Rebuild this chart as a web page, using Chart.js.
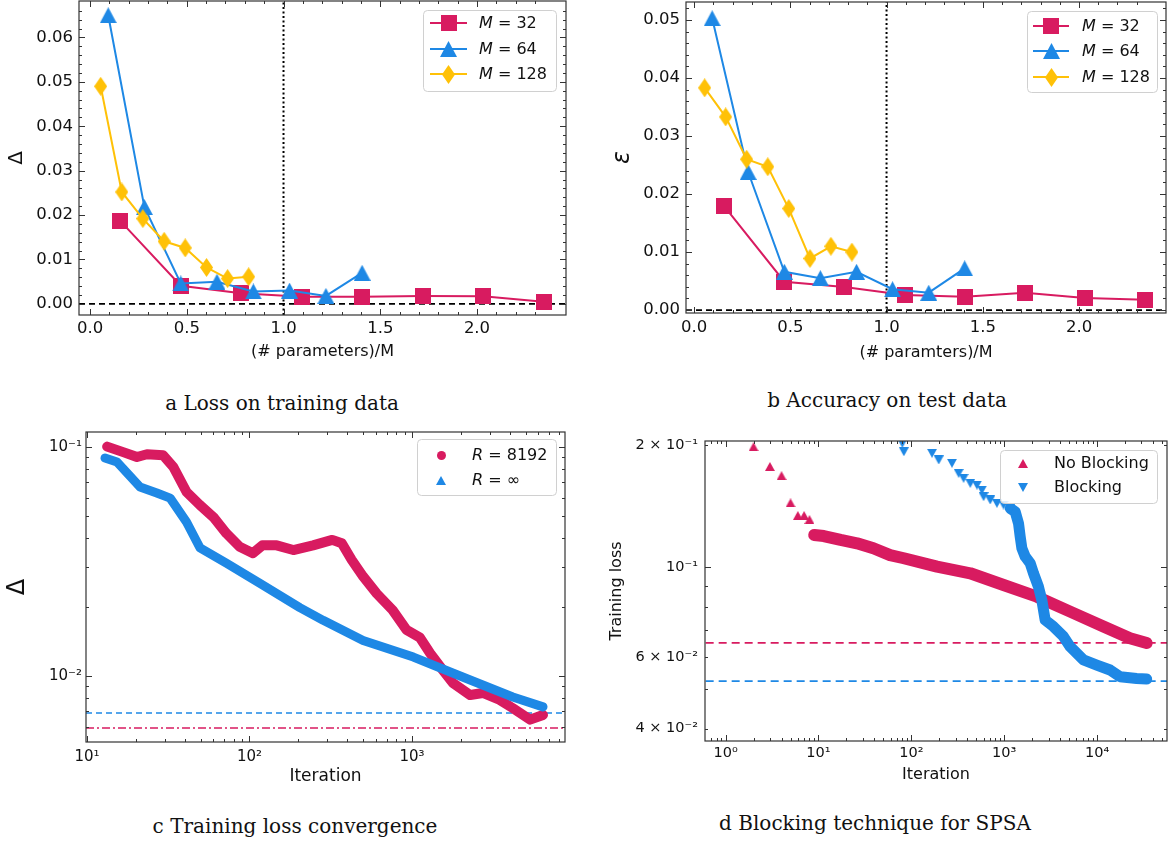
<!DOCTYPE html>
<html>
<head>
<meta charset="utf-8">
<script src="https://cdn.jsdelivr.net/npm/chart.js@4.4.1/dist/chart.umd.min.js"></script>
<style>
  body { margin: 0; background: #fff; width: 1169px; height: 845px; position: relative; overflow: hidden; }
  canvas { position: absolute; }
  .cap { position: absolute; font-family: 'DejaVu Serif', serif; font-size: 20px; color: #111;
         transform: translateX(-50%); white-space: nowrap; line-height: 24px; }
</style>
</head>
<body>
<canvas id="ca" width="580" height="370" style="left:0;top:0"></canvas>
<canvas id="cb" width="579" height="370" style="left:590px;top:0"></canvas>
<canvas id="cc" width="580" height="370" style="left:0;top:425px"></canvas>
<canvas id="cd" width="579" height="370" style="left:590px;top:425px"></canvas>
<div class="cap" style="left:282px;top:391px">a Loss on training data</div>
<div class="cap" style="left:887px;top:388px">b Accuracy on test data</div>
<div class="cap" style="left:295px;top:814px">c Training loss convergence</div>
<div class="cap" style="left:875px;top:811px">d Blocking technique for SPSA</div>
<script>
const CRIMSON = '#D81B60', BLUE = '#1E88E5', GOLD = '#FFC107';

// ---- (a) loss on training data, (b) accuracy on test data ----
// x = (# parameters)/M
const x32 = [0.156, 0.469, 0.781, 1.094, 1.406, 1.719, 2.031, 2.344];
const x64 = [0.094, 0.281, 0.469, 0.656, 0.844, 1.031, 1.219, 1.406];
const x128 = [0.055, 0.164, 0.273, 0.383, 0.492, 0.602, 0.711, 0.820];

const lossM32 = [0.0187, 0.0041, 0.0024, 0.0016, 0.0016, 0.0018, 0.0017, 0.0005];
const lossM64 = [0.0650, 0.0218, 0.0046, 0.0050, 0.0028, 0.0030, 0.0018, 0.0070];
const lossM128 = [0.0490, 0.0252, 0.0192, 0.0141, 0.0126, 0.0082, 0.0057, 0.0061];

const accM32 = [0.0179, 0.0049, 0.0040, 0.0026, 0.0023, 0.0030, 0.0021, 0.0018];
const accM64 = [0.0503, 0.0238, 0.0066, 0.0055, 0.0066, 0.0036, 0.0030, 0.0072];
const accM128 = [0.0383, 0.0333, 0.0260, 0.0247, 0.0175, 0.0089, 0.0110, 0.0100];

const A_XTICKS = [0, 0.5, 1, 1.5, 2];
const A_XLABELS = ['0.0', '0.5', '1.0', '1.5', '2.0'];
const A_YTICKS = [0, 0.01, 0.02, 0.03, 0.04, 0.05, 0.06];
const A_YLABELS = ['0.00', '0.01', '0.02', '0.03', '0.04', '0.05', '0.06'];
const B_YTICKS = [0, 0.01, 0.02, 0.03, 0.04, 0.05];
const B_YLABELS = ['0.00', '0.01', '0.02', '0.03', '0.04', '0.05'];

// ---- (c) training loss convergence ----
const cIterR8192 = [13.3, 16.7, 20.3, 23.4, 29.4, 34, 41, 49.5, 60, 72, 87, 105, 120, 147, 186, 246, 323, 370, 425, 500, 607, 760, 925, 1120, 1290, 1550, 1790, 2280, 2730, 3470, 4170, 5330, 6400];
const cDeltaR8192 = [0.1004, 0.095, 0.0904, 0.093, 0.092, 0.0818, 0.0636, 0.0558, 0.0494, 0.042, 0.0367, 0.0344, 0.0372, 0.0372, 0.0355, 0.0372, 0.0393, 0.038, 0.0322, 0.0272, 0.0229, 0.0194, 0.0159, 0.0147, 0.0126, 0.0106, 0.0093, 0.00826, 0.00843, 0.00786, 0.00724, 0.00645, 0.00676];
const cIterRinf = [12.9, 15.3, 21.2, 26.9, 32.5, 41, 49.6, 72, 116, 204, 284, 500, 1020, 2050, 4170, 6400];
const cDeltaRinf = [0.0895, 0.086, 0.0669, 0.063, 0.0598, 0.047, 0.0363, 0.0311, 0.0254, 0.0199, 0.0175, 0.0143, 0.0121, 0.0099, 0.0081, 0.00733];
const cLimitR8192 = 0.00593;
const cLimitRinf = 0.00689;

const C_XTICKS = [10, 100, 1000];
const C_XLABELS = ['10¹', '10²', '10³'];
const C_YTICKS = [0.01, 0.1];
const C_YLABELS = ['10⁻²', '10⁻¹'];

// ---- (d) blocking technique for SPSA ----
const dIterNoBlock = [2, 3, 4, 5, 6, 7, 8];
const dLossNoBlock = [0.198, 0.177, 0.168, 0.144, 0.134, 0.134, 0.131];
const dIterNoBlockDense = [9, 11.4, 17.3, 26, 39, 59, 83, 189, 431, 984, 2246, 5130, 11700, 22600, 34200];
const dLossNoBlockDense = [0.120, 0.1193, 0.1167, 0.1145, 0.1113, 0.1071, 0.1052, 0.1003, 0.0966, 0.0904, 0.0846, 0.0777, 0.0714, 0.0668, 0.0650];
const dIterBlock = [80, 83, 167, 197, 274, 323, 365, 431, 508, 575, 600, 707, 834, 984, 1161];
const dLossBlock = [0.2019, 0.1925, 0.1908, 0.1837, 0.1803, 0.1703, 0.1656, 0.1609, 0.1594, 0.1549, 0.1492, 0.1464, 0.1437, 0.1423, 0.1396];
const dIterBlockDense = [1161, 1314, 1426, 1486, 1549, 1682, 1905, 2066, 2337, 2541, 2649, 2760, 3390, 4340, 5130, 7130, 9930, 13800, 17700, 26700, 34200];
const dLossBlockDense = [0.1396, 0.1369, 0.1282, 0.1189, 0.1113, 0.1062, 0.1022, 0.0966, 0.0895, 0.0830, 0.0784, 0.0741, 0.0714, 0.0675, 0.0637, 0.0591, 0.0574, 0.0558, 0.0537, 0.0532, 0.0530];
const dLimitNoBlock = 0.0651;
const dLimitBlock = 0.0524;

const D_XTICKS = [1, 10, 100, 1000, 10000];
const D_XLABELS = ['10⁰', '10¹', '10²', '10³', '10⁴'];
const D_YTICKS = [0.04, 0.06, 0.1, 0.2];
const D_YLABELS = ['4 × 10⁻²', '6 × 10⁻²', '10⁻¹', '2 × 10⁻¹'];

Chart.defaults.font.family = "'DejaVu Sans', sans-serif";
Chart.defaults.color = '#111';

// marker images (matplotlib-like shapes)
function mk(shape, color, w, h) {
  const c = document.createElement('canvas');
  c.width = w; c.height = h;
  const g = c.getContext('2d');
  g.fillStyle = color;
  g.beginPath();
  if (shape === 'square') g.rect(0, 0, w, h);
  else if (shape === 'up') { g.moveTo(w / 2, 0); g.lineTo(w, h); g.lineTo(0, h); }
  else if (shape === 'down') { g.moveTo(0, 0); g.lineTo(w, 0); g.lineTo(w / 2, h); }
  else if (shape === 'diamond') { g.moveTo(w / 2, 0); g.lineTo(w, h / 2); g.lineTo(w / 2, h); g.lineTo(0, h / 2); }
  else if (shape === 'circle') g.arc(w / 2, h / 2, w / 2, 0, Math.PI * 2);
  g.closePath();
  g.fill();
  return c;
}
const SQ = mk('square', CRIMSON, 16, 16);
const TRI = mk('up', BLUE, 17, 16);
const DIA = mk('diamond', GOLD, 13, 19);

function pts(xs, ys) { return xs.map((x, i) => ({ x: x, y: ys[i] })); }

function series(xs, ys, color, style, extra) {
  return Object.assign({
    data: pts(xs, ys), showLine: true, borderColor: color, backgroundColor: color,
    borderWidth: 2, pointStyle: style, pointRadius: 8, tension: 0
  }, extra || {});
}
function band(xs, ys, color, width, order) {
  return {
    data: pts(xs, ys), showLine: true, borderColor: color, backgroundColor: color,
    borderWidth: width, pointRadius: 0, tension: 0, borderCapStyle: 'round', borderJoinStyle: 'round', order: order
  };
}
function refLine(xs, ys, color, dash, width) {
  return { data: pts(xs, ys), showLine: true, borderColor: color, borderDash: dash,
           borderWidth: width, pointRadius: 0, order: 10 };
}

function minorLin(min, max, step, majors) {
  const out = [];
  for (let v = Math.ceil(min / step) * step; v <= max; v += step) {
    const r = Math.round(v / step) * step;
    if (!majors.some(m => Math.abs(m - r) < step / 10)) out.push(r);
  }
  return out;
}
function minorLog(min, max) {
  const out = [];
  for (let e = Math.floor(Math.log10(min)); e <= Math.ceil(Math.log10(max)); e++) {
    for (let k = 2; k <= 9; k++) {
      const v = k * Math.pow(10, e);
      if (v >= min && v <= max) out.push(v);
    }
  }
  return out;
}

// ticks drawn inward on all four sides + frame + in-axes legend
const FRAMES = {};
const LEGENDS = {};
function richText(ctx, parts, x, y, size) {
  let cx = x;
  parts.forEach(p => {
    ctx.font = (p[1] ? 'italic ' : '') + size + "px 'DejaVu Sans'";
    ctx.fillText(p[0], cx, y);
    cx += ctx.measureText(p[0]).width;
  });
}
const framePlugin = {
  id: 'frameTicks',
  afterDatasetsDraw(chart) {
    const f = FRAMES[chart.canvas.id];
    const { ctx, chartArea: a } = chart;
    const sx = chart.scales.x, sy = chart.scales.y;
    ctx.save();
    ctx.strokeStyle = '#333';
    ctx.lineWidth = 1;
    ctx.beginPath();
    const tx = (vals, len) => vals.forEach(v => {
      const p = Math.round(sx.getPixelForValue(v)) + 0.5;
      if (p < a.left || p > a.right) return;
      ctx.moveTo(p, a.bottom); ctx.lineTo(p, a.bottom - len);
      ctx.moveTo(p, a.top); ctx.lineTo(p, a.top + len);
    });
    const ty = (vals, len) => vals.forEach(v => {
      const p = Math.round(sy.getPixelForValue(v)) + 0.5;
      if (p < a.top || p > a.bottom) return;
      ctx.moveTo(a.left, p); ctx.lineTo(a.left + len, p);
      ctx.moveTo(a.right, p); ctx.lineTo(a.right - len, p);
    });
    tx(f.xMajor, 6); tx(f.xMinor, 3);
    ty(f.yMajor, 6); ty(f.yMinor, 3);
    ctx.stroke();
    ctx.lineWidth = 1.2;
    ctx.strokeRect(a.left, a.top, a.right - a.left, a.bottom - a.top);

    const lg = LEGENDS[chart.canvas.id];
    if (lg) {
      ctx.beginPath();
      ctx.roundRect(lg.x + 0.5, lg.y + 0.5, lg.w, lg.h, 4);
      ctx.fillStyle = 'rgba(255,255,255,0.85)';
      ctx.fill();
      ctx.strokeStyle = '#d0d0d0';
      ctx.lineWidth = 1;
      ctx.stroke();
      ctx.textBaseline = 'middle';
      ctx.textAlign = 'left';
      lg.items.forEach((it, i) => {
        const y = lg.rows[i];
        if (lg.line) {
          ctx.strokeStyle = it.color;
          ctx.lineWidth = 2;
          ctx.beginPath();
          ctx.moveTo(lg.line[0], y); ctx.lineTo(lg.line[1], y);
          ctx.stroke();
        }
        const m = it.marker;
        ctx.drawImage(m, Math.round(lg.mx - m.width / 2), Math.round(y - m.height / 2));
        ctx.fillStyle = '#111';
        richText(ctx, it.parts, lg.tx, y + 1, lg.size);
      });
    }
    ctx.restore();
  }
};

function build(id, s) {
  const cv = document.getElementById(id);
  const W = cv.width, H = cv.height, ar = s.area;
  FRAMES[id] = { xMajor: s.xTicks, xMinor: s.xMinor, yMajor: s.yMajor || s.yTicks, yMinor: s.yMinor };
  return new Chart(cv, {
    type: 'scatter',
    data: { datasets: s.datasets },
    options: {
      responsive: false,
      animation: false,
      events: [],
      layout: { autoPadding: false, padding: { left: 0, top: ar.top, right: W - ar.right, bottom: 0 } },
      plugins: { legend: { display: false }, tooltip: { enabled: false } },
      scales: {
        x: {
          type: s.xType, min: s.xMin, max: s.xMax,
          grid: { display: false, drawTicks: false }, border: { display: false },
          ticks: { autoSkip: false, maxRotation: 0, padding: s.xPad, color: '#111',
                   font: { size: s.tickSize }, callback: (v, i) => s.xLabels[i] },
          afterBuildTicks: sc => { sc.ticks = s.xTicks.map(v => ({ value: v })); },
          afterFit: sc => { sc.height = H - ar.bottom; sc.paddingLeft = 0; sc.paddingRight = 0; },
          title: { display: true, text: s.xTitle, color: '#111', font: s.xTitleFont,
                   padding: { top: 0, bottom: s.xTitlePad } }
        },
        y: {
          type: s.yType, min: s.yMin, max: s.yMax,
          grid: { display: false, drawTicks: false }, border: { display: false },
          ticks: { autoSkip: false, padding: s.yPad, color: '#111',
                   font: { size: s.tickSize }, callback: (v, i) => s.yLabels[i] },
          afterBuildTicks: sc => { sc.ticks = s.yTicks.map(v => ({ value: v })); },
          afterFit: sc => { sc.width = ar.left; sc.paddingTop = 0; sc.paddingBottom = 0; },
          title: { display: true, text: s.yTitle, color: '#111', font: s.yTitleFont,
                   padding: { top: s.yTitlePad, bottom: 0 } }
        }
      }
    },
    plugins: [framePlugin]
  });
}

// ---------- panel a ----------
const A_XMIN = -0.057, A_XMAX = 2.46, A_YMIN = -0.0025, A_YMAX = 0.0682;
LEGENDS.ca = {
  x: 423, y: 10, w: 133, h: 81, rows: [23, 49, 74], line: [430, 467], mx: 448.5, tx: 479, size: 16,
  items: [
    { color: CRIMSON, marker: SQ, parts: [['M', true], [' = 32', false]] },
    { color: BLUE, marker: TRI, parts: [['M', true], [' = 64', false]] },
    { color: GOLD, marker: DIA, parts: [['M', true], [' = 128', false]] }
  ]
};
build('ca', {
  area: { left: 79, top: 1, right: 566, bottom: 315 },
  xType: 'linear', xMin: A_XMIN, xMax: A_XMAX, xTicks: A_XTICKS, xLabels: A_XLABELS,
  xMinor: minorLin(0, 2.4, 0.1, A_XTICKS),
  yType: 'linear', yMin: A_YMIN, yMax: A_YMAX, yTicks: A_YTICKS, yLabels: A_YLABELS,
  yMinor: minorLin(0, 0.068, 0.002, A_YTICKS),
  tickSize: 16.5, xPad: 4, yPad: 6,
  xTitle: '(# parameters)/M', xTitleFont: { size: 16 }, xTitlePad: 9,
  yTitle: 'Δ', yTitleFont: { size: 20 }, yTitlePad: 5,
  datasets: [
    series(x128, lossM128, GOLD, DIA, { order: 1 }),
    series(x64, lossM64, BLUE, TRI, { order: 2 }),
    series(x32, lossM32, CRIMSON, SQ, { order: 3 }),
    refLine([A_XMIN, A_XMAX], [0, 0], '#000', [6, 4], 1.6),
    refLine([1, 1], [A_YMIN, A_YMAX], '#000', [2, 2.5], 2)
  ]
});

// ---------- panel b ----------
const B_XMIN = -0.042, B_XMAX = 2.452, B_YMIN = -0.0005, B_YMAX = 0.0531;
LEGENDS.cb = {
  x: 437, y: 11, w: 130, h: 81, rows: [26, 51, 77], line: [443, 479], mx: 461, tx: 492, size: 16,
  items: LEGENDS.ca.items
};
build('cb', {
  area: { left: 96, top: 2, right: 576, bottom: 313 },
  xType: 'linear', xMin: B_XMIN, xMax: B_XMAX, xTicks: A_XTICKS, xLabels: A_XLABELS,
  xMinor: minorLin(0, 2.4, 0.1, A_XTICKS),
  yType: 'linear', yMin: B_YMIN, yMax: B_YMAX, yTicks: B_YTICKS, yLabels: B_YLABELS,
  yMinor: minorLin(0, 0.053, 0.002, B_YTICKS),
  tickSize: 16.5, xPad: 5, yPad: 6,
  xTitle: '(# paramters)/M', xTitleFont: { size: 16 }, xTitlePad: 8,
  yTitle: 'ε', yTitleFont: { size: 24, style: 'italic' }, yTitlePad: 18,
  datasets: [
    series(x128, accM128, GOLD, DIA, { order: 1 }),
    series(x64, accM64, BLUE, TRI, { order: 2 }),
    series(x32, accM32, CRIMSON, SQ, { order: 3 }),
    refLine([B_XMIN, B_XMAX], [0, 0], '#000', [6, 4], 1.6),
    refLine([1, 1], [B_YMIN, B_YMAX], '#000', [2, 2.5], 2)
  ]
});

// ---------- panel c ----------
const C_XMIN = 9.86, C_XMAX = 8740, C_YMIN = 0.00515, C_YMAX = 0.1163;
LEGENDS.cc = {
  x: 417, y: 14, w: 139, h: 56, rows: [30, 55], mx: 441, tx: 472, size: 16,
  items: [
    { color: CRIMSON, marker: mk('circle', CRIMSON, 9, 9), parts: [['R', true], [' = 8192', false]] },
    { color: BLUE, marker: mk('up', BLUE, 10, 9), parts: [['R', true], [' = ∞', false]] }
  ]
};
build('cc', {
  area: { left: 86, top: 7, right: 565, bottom: 317 },
  xType: 'logarithmic', xMin: C_XMIN, xMax: C_XMAX, xTicks: C_XTICKS, xLabels: C_XLABELS,
  xMinor: minorLog(C_XMIN, C_XMAX),
  yType: 'logarithmic', yMin: C_YMIN, yMax: C_YMAX, yTicks: C_YTICKS, yLabels: C_YLABELS,
  yMinor: minorLog(C_YMIN, C_YMAX),
  tickSize: 15, xPad: 6, yPad: 4,
  xTitle: 'Iteration', xTitleFont: { size: 17 }, xTitlePad: 8,
  yTitle: 'Δ', yTitleFont: { size: 24 }, yTitlePad: 3,
  datasets: [
    band(cIterRinf, cDeltaRinf, BLUE, 9, 1),
    band(cIterR8192, cDeltaR8192, CRIMSON, 10, 2),
    refLine([C_XMIN, C_XMAX], [cLimitRinf, cLimitRinf], BLUE, [6, 4], 1.6),
    refLine([C_XMIN, C_XMAX], [cLimitR8192, cLimitR8192], CRIMSON, [8, 3, 2, 3], 1.6)
  ]
});

// ---------- panel d ----------
const D_XMIN = 0.61, D_XMAX = 56600, D_YMIN = 0.0373, D_YMAX = 0.2046;
const TRI_D = mk('up', CRIMSON, 10, 9);
const DOWN_D = mk('down', BLUE, 10, 9);
LEGENDS.cd = {
  x: 410, y: 25, w: 157, h: 53, rows: [38, 62], mx: 433, tx: 464, size: 16,
  items: [
    { color: CRIMSON, marker: TRI_D, parts: [['No Blocking', false]] },
    { color: BLUE, marker: DOWN_D, parts: [['Blocking', false]] }
  ]
};
build('cd', {
  area: { left: 115, top: 16, right: 577, bottom: 316 },
  xType: 'logarithmic', xMin: D_XMIN, xMax: D_XMAX, xTicks: D_XTICKS, xLabels: D_XLABELS,
  xMinor: minorLog(D_XMIN, D_XMAX),
  yType: 'logarithmic', yMin: D_YMIN, yMax: D_YMAX, yTicks: D_YTICKS, yLabels: D_YLABELS,
  yMajor: [0.1], yMinor: minorLog(D_YMIN, D_YMAX),
  tickSize: 14.5, xPad: 4, yPad: 7,
  xTitle: 'Iteration', xTitleFont: { size: 16 }, xTitlePad: 11,
  yTitle: 'Training loss', yTitleFont: { size: 16 }, yTitlePad: 17,
  datasets: [
    { data: pts(dIterBlock, dLossBlock), showLine: false, pointStyle: DOWN_D, pointRadius: 5, order: 1 },
    band(dIterBlockDense, dLossBlockDense, BLUE, 11, 2),
    { data: pts(dIterNoBlock, dLossNoBlock), showLine: false, pointStyle: TRI_D, pointRadius: 5, order: 3 },
    band(dIterNoBlockDense, dLossNoBlockDense, CRIMSON, 12, 4),
    refLine([D_XMIN, D_XMAX], [dLimitNoBlock, dLimitNoBlock], CRIMSON, [8, 5], 1.6),
    refLine([D_XMIN, D_XMAX], [dLimitBlock, dLimitBlock], BLUE, [8, 5], 1.6)
  ]
});
</script>
</body>
</html>
